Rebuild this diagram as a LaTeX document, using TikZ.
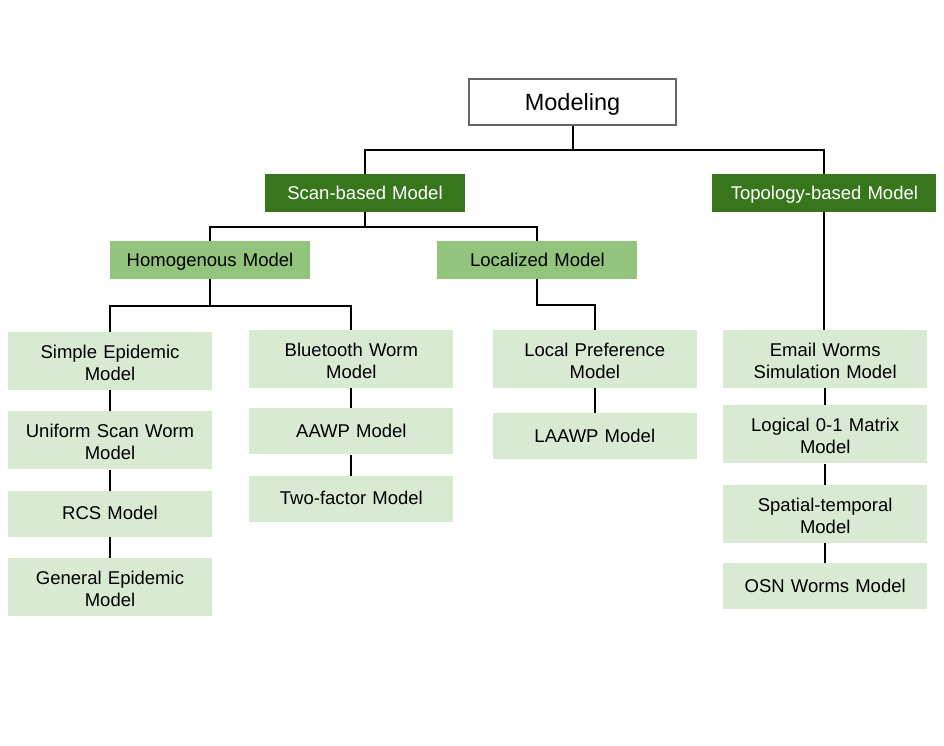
\documentclass[tikz,border=0pt]{standalone}
\usepackage{fontspec}
\setmainfont{Liberation Sans}
\usetikzlibrary{positioning,calc}
\definecolor{scangreen}{HTML}{38761D}
\definecolor{midgreen}{HTML}{93C47D}
\definecolor{palegreen}{HTML}{D9EAD3}
\begin{document}
\begin{tikzpicture}[x=1pt,y=-1pt,
    rootbox/.style={
        rectangle,
        draw=black!60,
        line width=1.5pt,
        fill=white,
        minimum width=207pt, minimum height=46pt,
        inner sep=0pt,
        text height=20pt, text depth=2pt,
        font=\fontsize{23.5}{27}\selectfont
        },
    catbox/.style={
        rectangle,
        fill=scangreen,
        text=white,
        text width=200pt, minimum height=38pt,
        inner sep=0pt,
        text height=14pt, text depth=2pt,
        align=center,
        font=\fontsize{18.5}{22}\selectfont},
    subbox/.style={catbox, fill=midgreen, text=black},
    modelbox/.style={
        rectangle,
        fill=palegreen,
        text width=204pt, minimum height=46pt,
        inner sep=0pt,
        text height=14pt, text depth=2pt,
        align=center,
        font=\fontsize{18.5}{22}\selectfont},
    tall/.style={minimum height=58pt, text height=14pt, text depth=19pt},
    link/.style={line width=2pt, black}]

    \useasboundingbox (0,0) rectangle (944,746);

    \node (modeling) [rootbox] at (572.5,102) {Modeling};

    \node (scan) [catbox] at (365,193) {Scan-based Model};
    \node (topology) [catbox, text width=224pt, right=247pt of scan] {Topology-based Model};

    \node (homog) [subbox] at (210,260) {Homogenous Model};
    \node (localized) [subbox, right=127pt of homog] {Localized Model};

    % scan-based, homogenous
    \node (simple) [modelbox, tall] at (110,361) {Simple Epidemic\\Model};
    \node (uniform) [modelbox, tall, below=21pt of simple] {Uniform Scan Worm\\Model};
    \node (rcs) [modelbox, below=21pt of uniform] {RCS Model};
    \node (general) [modelbox, tall, below=21pt of rcs] {General Epidemic\\Model};

    \node (bluetooth) [modelbox, tall, right=37pt of simple, yshift=2pt] {Bluetooth Worm\\Model};
    \node (aawp) [modelbox, below=20pt of bluetooth] {AAWP Model};
    \node (twofactor) [modelbox, below=21pt of aawp] {Two-factor Model};

    % scan-based, localized
    \node (localpref) [modelbox, tall, right=39pt of bluetooth] {Local Preference\\Model};
    \node (laawp) [modelbox, below=25pt of localpref] {LAAWP Model};

    % topology-based
    \node (email) [modelbox, tall, right=26pt of localpref] {Email Worms\\Simulation Model};
    \node (logical) [modelbox, tall, below=17pt of email] {Logical 0-1 Matrix\\Model};
    \node (spatial) [modelbox, tall, below=21pt of logical] {Spatial-temporal\\Model};
    \node (osn) [modelbox, below=20pt of spatial] {OSN Worms Model};

    \draw[link] (modeling.south) |- ($(modeling.south)!0.5!(scan.north)$) -| (scan.north);
    \draw[link] (modeling.south) |- ($(modeling.south)!0.5!(topology.north)$) -| (topology.north);

    \draw[link] (scan.south) |- ($(scan.south)!0.5!(homog.north)$) -| (homog.north);
    \draw[link] (scan.south) |- ($(scan.south)!0.5!(localized.north)$) -| (localized.north);

    \draw[link] (homog.south) |- ($(homog.south)!0.5!(simple.north)$) -| (simple.north);
    \draw[link] (homog.south) |- ($(homog.south)!0.5!(simple.north)$) -| (bluetooth.north);

    \draw[link] (localized.south) |- ($(localized.south)!0.5!(localpref.north)$) -| (localpref.north);

    \draw[link] (topology.south) -- (topology.south |- email.north);

    \path (simple) edge[link] (uniform);
    \path (uniform) edge[link] (rcs);
    \path (rcs) edge[link] (general);

    \path (bluetooth) edge[link] (aawp);
    \path (aawp) edge[link] (twofactor);

    \path (localpref) edge[link] (laawp);

    \path (email) edge[link] (logical);
    \path (logical) edge[link] (spatial);
    \path (spatial) edge[link] (osn);
\end{tikzpicture}
\end{document}
